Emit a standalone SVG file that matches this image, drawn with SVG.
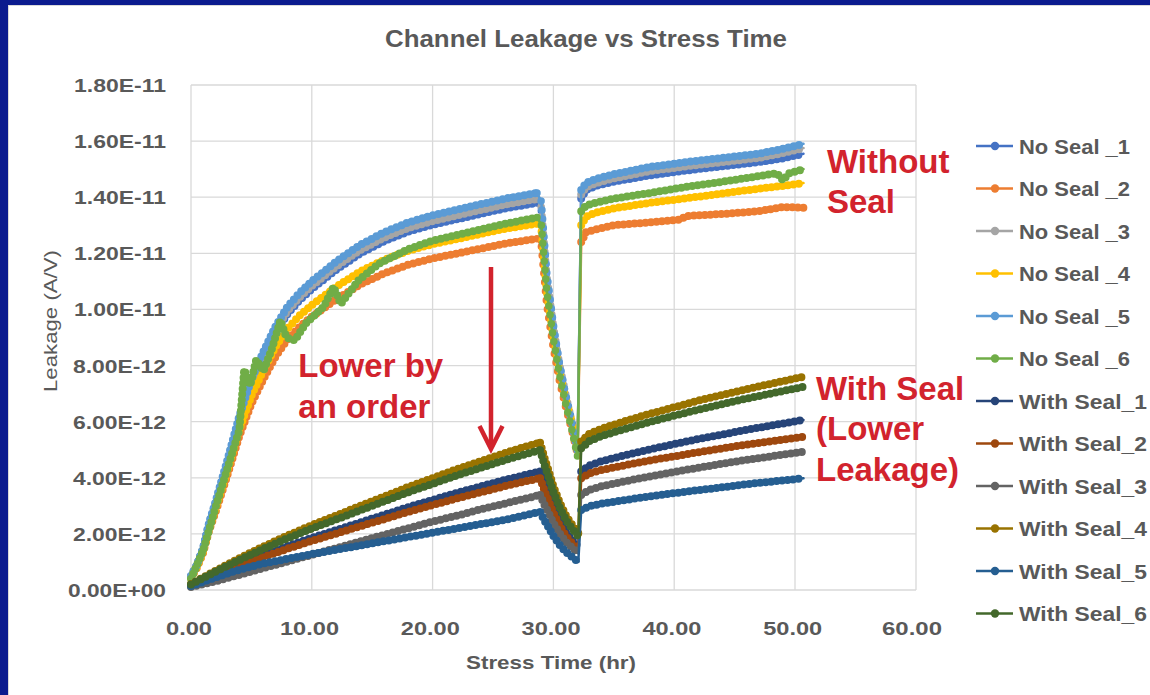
<svg xmlns="http://www.w3.org/2000/svg" width="1150" height="695" viewBox="0 0 1150 695">
<style>
.grid line{stroke:#d9d9d9;stroke-width:1.3}
.tk{font-family:"Liberation Sans",Arial,sans-serif;font-weight:bold;font-size:19px;fill:#595959}
.ttl{font-family:"Liberation Sans",Arial,sans-serif;font-weight:bold;font-size:24px;fill:#595959}
.axt{font-family:"Liberation Sans",Arial,sans-serif;font-weight:bold;font-size:19px;fill:#595959}
.axy{font-family:"Liberation Sans",Arial,sans-serif;font-size:19px;fill:#595959}
.lg{font-family:"Liberation Sans",Arial,sans-serif;font-weight:bold;font-size:20px;fill:#595959}
.ann{font-family:"Liberation Sans",Arial,sans-serif;font-weight:bold;font-size:33px;fill:#d2232d}
.ln{fill:none;stroke-width:2.5;stroke-linejoin:round;stroke-linecap:round}
.dt{fill:none;stroke-width:8;stroke-dasharray:0 5.5;stroke-linecap:round}
.dd{fill:none;stroke-width:7.5;stroke-dasharray:0 9;stroke-linecap:round}
.c1{stroke:#4472C4;fill:#4472C4}.c2{stroke:#ED7D31;fill:#ED7D31}.c3{stroke:#A5A5A5;fill:#A5A5A5}
.c4{stroke:#FFC000;fill:#FFC000}.c5{stroke:#5B9BD5;fill:#5B9BD5}.c6{stroke:#70AD47;fill:#70AD47}
.d1{stroke:#264478;fill:#264478}.d2{stroke:#9E480E;fill:#9E480E}.d3{stroke:#636363;fill:#636363}
.d4{stroke:#997300;fill:#997300}.d5{stroke:#255E91;fill:#255E91}.d6{stroke:#43682B;fill:#43682B}
.legend line{stroke-width:2.6}
</style>
<defs>
<path id="ns1a" d="M191,576.3 L197,565.3 203.1,549 209.1,524.4 215.2,505.2 227.2,464.1 239.3,420.3 251.4,384.8 263.5,357.5 275.6,332.8 287.6,313.7 299.7,300 311.8,289 336,269.9 360.1,253.5 384.3,241.1 408.4,231.6 432.6,224.8 456.8,219.3 480.9,213.8 505.1,208.4 529.2,204.3 537,202.9"/>
<path id="ns1b" d="M537,202.9 L541.3,210.6 546.7,278 553.4,328.2 559.5,365.2 565.5,394.1 571.5,419.9 577.6,449.7"/>
<path id="ns1c" d="M581.2,198.6 L586,190.1 595.7,185.9 613.8,181.7 650,175.3 686.3,170.5 722.5,166.3 758.8,162.1 782.9,158.4 803.5,153.7"/>
<path id="ns2a" d="M191,577.6 L197,567.6 203.1,552.7 209.1,530.4 215.2,513 227.2,475.7 239.3,436 251.4,403.7 263.5,378.9 275.6,356.5 287.6,339.2 299.7,326.8 311.8,316.8 336,299.5 360.1,284.6 384.3,273.3 408.4,264.7 432.6,258.5 456.8,253.5 480.9,248.6 505.1,243.6 529.2,239.9 537,238.7"/>
<path id="ns2b" d="M537,238.7 L541.3,245.7 546.7,304.6 553.4,348.7 559.5,381.2 565.5,406.5 571.5,429.2 577.6,455.3"/>
<path id="ns2c" d="M581.2,242.1 L586,232.2 595.7,229.4 613.8,225.2 650,222.4 680.2,219.6 686.3,216 722.5,214 758.8,211.2 782.9,207 803.5,207.8"/>
<path id="ns3a" d="M191,576.2 L197,565.1 203.1,548.5 209.1,523.7 215.2,504.3 227.2,462.8 239.3,418.6 251.4,382.7 263.5,355.1 275.6,330.2 287.6,310.9 299.7,297.1 311.8,285.9 336,266.6 360.1,250.1 384.3,237.6 408.4,227.9 432.6,221 456.8,215.5 480.9,210 505.1,204.5 529.2,200.3 537,199"/>
<path id="ns3b" d="M537,199 L541.3,207.3 546.7,275.4 553.4,326.5 559.5,364.1 565.5,393.3 571.5,419.7 577.6,449.7"/>
<path id="ns3c" d="M581.2,194.4 L586,187.3 595.7,183.1 613.8,178.4 650,171.1 686.3,166.3 722.5,162.1 758.8,157.9 782.9,153.1 803.5,148.1"/>
<path id="ns4a" d="M191,577.1 L197,566.6 203.1,551.1 209.1,527.9 215.2,509.7 227.2,470.8 239.3,429.4 251.4,395.7 263.5,369.9 275.6,346.5 287.6,328.4 299.7,315.5 311.8,305.1 336,287 360.1,271.5 384.3,259.8 408.4,250.7 432.6,244.2 456.8,239.1 480.9,233.9 505.1,228.7 529.2,224.9 537,223.6"/>
<path id="ns4b" d="M537,223.6 L541.3,230.6 546.7,291.7 553.4,336.9 559.5,370.6 565.5,396.7 571.5,419.9 577.6,446.9"/>
<path id="ns4c" d="M581.2,225.2 L586,216.8 595.7,212.6 613.8,208.4 650,202.8 686.3,198.3 722.5,193.5 758.8,188.7 782.9,185.9 803.5,183.1"/>
<path id="ns5a" d="M191,576 L197,564.7 203.1,547.9 209.1,522.7 215.2,503 227.2,460.9 239.3,416 251.4,379.5 263.5,351.5 275.6,326.2 287.6,306.6 299.7,292.6 311.8,281.3 336,261.7 360.1,244.9 384.3,232.2 408.4,222.4 432.6,215.4 456.8,209.8 480.9,204.2 505.1,198.6 529.2,194.4 537,193"/>
<path id="ns5b" d="M537,193 L541.3,201.4 546.7,272.1 553.4,324.8 559.5,363.8 565.5,394.1 571.5,421.4 577.6,452.5"/>
<path id="ns5c" d="M581.2,190.1 L586,183.1 595.7,178.9 613.8,174.2 650,166.9 686.3,162.1 722.5,157.9 758.8,153.7 782.9,148.9 803.5,143.8"/>
<path id="ns6a" d="M191,578.8 L203.1,550.7 215.2,508.6 227.2,469.3 239.3,430.1 244.2,369.7 250.2,385.2 256.2,359.9 263.5,371.1 271.9,348.7 280.4,320.6 286.4,337.5 294.9,340.3 305.8,323.4 323.9,306.6 333.5,287 340.8,303.8 358.9,279.9 379.4,263.4 408.4,249.1 432.6,240.7 456.8,235 480.9,229.4 505.1,223.8 529.2,219 537,217.4"/>
<path id="ns6b" d="M537,217.4 L541.3,224.9 546.7,290.3 553.4,338.9 559.5,374.8 565.5,402.8 571.5,428.1 577.6,456.7"/>
<path id="ns6c" d="M581.2,211.2 L586,205.6 595.7,202.8 613.8,198.6 650,193 686.3,186.8 722.5,181.7 758.8,176.1 776.9,173.3 782.9,180.3 788.9,173.3 803.5,169.1"/>
<path id="ws1a" d="M191,585.3 L215.2,574.6 239.3,564.5 263.5,555.1 287.6,546.2 311.8,537.9 336,530.2 360.1,522.5 384.3,514.8 408.4,507.1 432.6,500 456.8,492.9 480.9,486.4 505.1,479.9 529.2,474 540.1,471.6"/>
<path id="ws1b" d="M540.1,471.6 L545,485.9 548.3,494 553.3,507.8 560,522.1 566.7,533.3 573.3,541.2 578.3,546.8"/>
<path id="ws1c" d="M581.2,471.6 L589.6,465.4 601.7,461.2 625.9,455 650,449.4 674.2,444.1 698.4,439 722.5,434.5 746.7,429.8 770.8,425.6 803.5,419.9"/>
<path id="ws2a" d="M191,585.5 L215.2,575.5 239.3,566 263.5,557 287.6,548.7 311.8,540.9 336,533.6 360.1,526.3 384.3,519.1 408.4,511.8 432.6,505.1 456.8,498.4 480.9,492.3 505.1,486.1 529.2,480.5 540.1,478.3"/>
<path id="ws2b" d="M540.1,478.3 L545,491.8 548.3,499.6 553.3,512.6 560,526.3 566.7,537 573.3,544.5 578.3,549.9"/>
<path id="ws2c" d="M581.2,478.3 L589.6,473.3 601.7,469.9 625.9,465.1 650,460.4 674.2,456.4 698.4,452.2 722.5,448.3 746.7,444.6 770.8,441.3 803.5,436.8"/>
<path id="ws3a" d="M191,587.1 L215.2,581.4 239.3,574.8 263.5,568.1 287.6,561.5 311.8,554.8 336,548.2 360.1,541.5 384.3,534.8 408.4,528.2 432.6,521.5 456.8,515.8 480.9,509.2 505.1,503.5 529.2,497.8 540.1,494.9"/>
<path id="ws3b" d="M540.1,494.9 L545,506.1 548.3,512.3 553.3,522.9 560,533.9 566.7,542.9 573.3,548.8 578.3,553.2"/>
<path id="ws3c" d="M581.2,494.9 L589.6,489.8 601.7,486.2 625.9,481.1 650,476.4 674.2,471.9 698.4,467.7 722.5,463.7 746.7,459.8 770.8,456.4 803.5,451.7"/>
<path id="ws4a" d="M191,584.1 L215.2,570.9 239.3,558.3 263.5,546.5 287.6,535.5 311.8,525.2 336,515.6 360.1,506 384.3,496.5 408.4,486.9 432.6,478.1 456.8,469.2 480.9,461.1 505.1,453 529.2,445.6 540.1,442.7"/>
<path id="ws4b" d="M540.1,442.7 L545,459.8 548.3,469.9 553.3,486.2 560,503.3 566.7,517 573.3,526.6 578.3,533.3"/>
<path id="ws4c" d="M581.2,441.6 L589.6,433.7 601.7,428.7 625.9,420.8 650,413.8 674.2,407.3 698.4,400.6 722.5,395 746.7,389.1 770.8,383.8 803.5,376.7"/>
<path id="ws5a" d="M191,586.1 L215.2,577.5 239.3,569.7 263.5,563.5 287.6,558.8 311.8,554.1 336,549.8 360.1,545.5 384.3,541.2 408.4,537 432.6,532.7 456.8,528.4 480.9,524.1 505.1,519.8 529.2,514.3 540.1,512"/>
<path id="ws5b" d="M540.1,512 L545,521.5 548.3,526.9 553.3,535.8 560,545.4 566.7,552.7 573.3,558 578.3,561.7"/>
<path id="ws5c" d="M581.2,510 L589.6,506.1 601.7,503.6 625.9,499.9 650,496.3 674.2,493.2 698.4,490.1 722.5,487.3 746.7,484.2 770.8,481.7 803.5,478.3"/>
<path id="ws6a" d="M191,584.4 L215.2,571.8 239.3,560 263.5,548.8 287.6,538.3 311.8,528.5 336,519.5 360.1,510.4 384.3,501.3 408.4,492.2 432.6,483.8 456.8,475.4 480.9,467.8 505.1,460.1 529.2,453.1 540.1,450.3"/>
<path id="ws6b" d="M540.1,450.3 L545,466.8 548.3,476.1 553.3,491.8 560,508.1 566.7,521.3 573.3,530.2 578.3,536.7"/>
<path id="ws6c" d="M581.2,448.3 L589.6,441 601.7,435.9 625.9,428.7 650,421.9 674.2,415.7 698.4,409.6 722.5,404 746.7,398.6 770.8,393.6 803.5,386.8"/>
</defs>

<rect x="0" y="0" width="1150" height="695" fill="#ffffff"/>
<rect x="8.5" y="5.5" width="1150" height="700" fill="none" stroke="#d9d9d9" stroke-width="1"/>
<rect x="0" y="0" width="1150" height="5" fill="#0b1b8e"/>
<rect x="0" y="0" width="8" height="695" fill="#0b1b8e"/>

<text class="ttl" x="586" y="47" text-anchor="middle" textLength="402" lengthAdjust="spacingAndGlyphs">Channel Leakage vs Stress Time</text>

<g id="grid" class="grid">
<line x1="191" y1="85" x2="916" y2="85"/>
<line x1="191" y1="141.1" x2="916" y2="141.1"/>
<line x1="191" y1="197.2" x2="916" y2="197.2"/>
<line x1="191" y1="253.3" x2="916" y2="253.3"/>
<line x1="191" y1="309.4" x2="916" y2="309.4"/>
<line x1="191" y1="365.6" x2="916" y2="365.6"/>
<line x1="191" y1="421.7" x2="916" y2="421.7"/>
<line x1="191" y1="477.8" x2="916" y2="477.8"/>
<line x1="191" y1="533.9" x2="916" y2="533.9"/>
<line x1="191" y1="590" x2="916" y2="590"/>
<line x1="191" y1="85" x2="191" y2="590"/>
<line x1="311.8" y1="85" x2="311.8" y2="590"/>
<line x1="432.6" y1="85" x2="432.6" y2="590"/>
<line x1="553.4" y1="85" x2="553.4" y2="590"/>
<line x1="674.2" y1="85" x2="674.2" y2="590"/>
<line x1="795" y1="85" x2="795" y2="590"/>
<line x1="916" y1="85" x2="916" y2="590"/>
</g>

<g id="y-axis" text-anchor="end">
<text class="tk" x="166" y="92" textLength="92" lengthAdjust="spacingAndGlyphs">1.80E-11</text>
<text class="tk" x="166" y="148.1" textLength="92" lengthAdjust="spacingAndGlyphs">1.60E-11</text>
<text class="tk" x="166" y="204.2" textLength="92" lengthAdjust="spacingAndGlyphs">1.40E-11</text>
<text class="tk" x="166" y="260.3" textLength="92" lengthAdjust="spacingAndGlyphs">1.20E-11</text>
<text class="tk" x="166" y="316.4" textLength="92" lengthAdjust="spacingAndGlyphs">1.00E-11</text>
<text class="tk" x="166" y="372.6" textLength="93" lengthAdjust="spacingAndGlyphs">8.00E-12</text>
<text class="tk" x="166" y="428.7" textLength="93" lengthAdjust="spacingAndGlyphs">6.00E-12</text>
<text class="tk" x="166" y="484.8" textLength="93" lengthAdjust="spacingAndGlyphs">4.00E-12</text>
<text class="tk" x="166" y="540.9" textLength="93" lengthAdjust="spacingAndGlyphs">2.00E-12</text>
<text class="tk" x="166" y="597" textLength="98" lengthAdjust="spacingAndGlyphs">0.00E+00</text>
<text class="axy" transform="translate(57,321) rotate(-90)" text-anchor="middle" textLength="142" lengthAdjust="spacingAndGlyphs">Leakage (A/V)</text>
</g>

<g id="x-axis" text-anchor="middle">
<text class="tk" x="189" y="635" textLength="46" lengthAdjust="spacingAndGlyphs">0.00</text>
<text class="tk" x="309.5" y="635" textLength="59" lengthAdjust="spacingAndGlyphs">10.00</text>
<text class="tk" x="430.3" y="635" textLength="59" lengthAdjust="spacingAndGlyphs">20.00</text>
<text class="tk" x="551.1" y="635" textLength="59" lengthAdjust="spacingAndGlyphs">30.00</text>
<text class="tk" x="671.9" y="635" textLength="59" lengthAdjust="spacingAndGlyphs">40.00</text>
<text class="tk" x="792.7" y="635" textLength="59" lengthAdjust="spacingAndGlyphs">50.00</text>
<text class="tk" x="912" y="635" textLength="60" lengthAdjust="spacingAndGlyphs">60.00</text>
<text class="axt" x="551" y="669" textLength="170" lengthAdjust="spacingAndGlyphs">Stress Time (hr)</text>
</g>

<g id="series">
<g id="ns1" class="c1"><use href="#ns1a" class="ln"/><use href="#ns1b" class="ln"/><line class="ln" x1="577.6" y1="449.7" x2="581.2" y2="198.6"/><use href="#ns1c" class="ln"/><use href="#ns1a" class="dt"/><use href="#ns1b" class="dd"/><use href="#ns1c" class="dt"/></g>
<g id="ns2" class="c2"><use href="#ns2a" class="ln"/><use href="#ns2b" class="ln"/><line class="ln" x1="577.6" y1="455.3" x2="581.2" y2="242.1"/><use href="#ns2c" class="ln"/><use href="#ns2a" class="dt"/><use href="#ns2b" class="dd"/><use href="#ns2c" class="dt"/></g>
<g id="ns3" class="c3"><use href="#ns3a" class="ln"/><use href="#ns3b" class="ln"/><line class="ln" x1="577.6" y1="449.7" x2="581.2" y2="194.4"/><use href="#ns3c" class="ln"/><use href="#ns3a" class="dt"/><use href="#ns3b" class="dd"/><use href="#ns3c" class="dt"/></g>
<g id="ns4" class="c4"><use href="#ns4a" class="ln"/><use href="#ns4b" class="ln"/><line class="ln" x1="577.6" y1="446.9" x2="581.2" y2="225.2"/><use href="#ns4c" class="ln"/><use href="#ns4a" class="dt"/><use href="#ns4b" class="dd"/><use href="#ns4c" class="dt"/></g>
<g id="ns5" class="c5"><use href="#ns5a" class="ln"/><use href="#ns5b" class="ln"/><line class="ln" x1="577.6" y1="452.5" x2="581.2" y2="190.1"/><use href="#ns5c" class="ln"/><use href="#ns5a" class="dt"/><use href="#ns5b" class="dd"/><use href="#ns5c" class="dt"/></g>
<g id="ns6" class="c6"><use href="#ns6a" class="ln"/><use href="#ns6b" class="ln"/><line class="ln" x1="577.6" y1="456.7" x2="581.2" y2="211.2"/><use href="#ns6c" class="ln"/><use href="#ns6a" class="dt"/><use href="#ns6b" class="dd"/><use href="#ns6c" class="dt"/></g>
<g id="ws1" class="d1"><use href="#ws1a" class="ln"/><use href="#ws1b" class="ln"/><line class="ln" x1="578.3" y1="546.8" x2="581.2" y2="471.6"/><use href="#ws1c" class="ln"/><use href="#ws1a" class="dt"/><use href="#ws1b" class="dt"/><use href="#ws1c" class="dt"/></g>
<g id="ws2" class="d2"><use href="#ws2a" class="ln"/><use href="#ws2b" class="ln"/><line class="ln" x1="578.3" y1="549.9" x2="581.2" y2="478.3"/><use href="#ws2c" class="ln"/><use href="#ws2a" class="dt"/><use href="#ws2b" class="dt"/><use href="#ws2c" class="dt"/></g>
<g id="ws3" class="d3"><use href="#ws3a" class="ln"/><use href="#ws3b" class="ln"/><line class="ln" x1="578.3" y1="553.2" x2="581.2" y2="494.9"/><use href="#ws3c" class="ln"/><use href="#ws3a" class="dt"/><use href="#ws3b" class="dt"/><use href="#ws3c" class="dt"/></g>
<g id="ws4" class="d4"><use href="#ws4a" class="ln"/><use href="#ws4b" class="ln"/><line class="ln" x1="578.3" y1="533.3" x2="581.2" y2="441.6"/><use href="#ws4c" class="ln"/><use href="#ws4a" class="dt"/><use href="#ws4b" class="dt"/><use href="#ws4c" class="dt"/></g>
<g id="ws5" class="d5"><use href="#ws5a" class="ln"/><use href="#ws5b" class="ln"/><line class="ln" x1="578.3" y1="561.7" x2="581.2" y2="510"/><use href="#ws5c" class="ln"/><use href="#ws5a" class="dt"/><use href="#ws5b" class="dt"/><use href="#ws5c" class="dt"/></g>
<g id="ws6" class="d6"><use href="#ws6a" class="ln"/><use href="#ws6b" class="ln"/><line class="ln" x1="578.3" y1="536.7" x2="581.2" y2="448.3"/><use href="#ws6c" class="ln"/><use href="#ws6a" class="dt"/><use href="#ws6b" class="dt"/><use href="#ws6c" class="dt"/></g>
</g>

<g id="annotations">
<text class="ann" x="827" y="172.7">Without</text>
<text class="ann" x="827" y="213.3">Seal</text>
<text class="ann" x="816" y="399.5">With Seal</text>
<text class="ann" x="816" y="440">(Lower</text>
<text class="ann" x="816" y="480.5">Leakage)</text>
<text class="ann" x="298.3" y="377.3">Lower by</text>
<text class="ann" x="298.3" y="418.3">an order</text>
<g id="arrow" fill="none" stroke="#d2232d" stroke-width="4.5">
<line x1="491" y1="267" x2="491" y2="446"/>
<polyline points="479.5,426 491,449 502.5,426" stroke-linejoin="miter"/>
</g>
</g>

<g id="legend" class="legend">
<g id="leg-ns1" class="c1"><line x1="976" y1="146" x2="1013" y2="146"/><circle cx="995" cy="146" r="4.2" stroke="none"/><text class="lg" x="1019" y="153.5" stroke="none" textLength="111" lengthAdjust="spacingAndGlyphs">No Seal _1</text></g>
<g id="leg-ns2" class="c2"><line x1="976" y1="188.5" x2="1013" y2="188.5"/><circle cx="995" cy="188.5" r="4.2" stroke="none"/><text class="lg" x="1019" y="196" stroke="none" textLength="111" lengthAdjust="spacingAndGlyphs">No Seal _2</text></g>
<g id="leg-ns3" class="c3"><line x1="976" y1="231" x2="1013" y2="231"/><circle cx="995" cy="231" r="4.2" stroke="none"/><text class="lg" x="1019" y="238.5" stroke="none" textLength="111" lengthAdjust="spacingAndGlyphs">No Seal _3</text></g>
<g id="leg-ns4" class="c4"><line x1="976" y1="273.5" x2="1013" y2="273.5"/><circle cx="995" cy="273.5" r="4.2" stroke="none"/><text class="lg" x="1019" y="281" stroke="none" textLength="111" lengthAdjust="spacingAndGlyphs">No Seal _4</text></g>
<g id="leg-ns5" class="c5"><line x1="976" y1="316" x2="1013" y2="316"/><circle cx="995" cy="316" r="4.2" stroke="none"/><text class="lg" x="1019" y="323.5" stroke="none" textLength="111" lengthAdjust="spacingAndGlyphs">No Seal _5</text></g>
<g id="leg-ns6" class="c6"><line x1="976" y1="358.5" x2="1013" y2="358.5"/><circle cx="995" cy="358.5" r="4.2" stroke="none"/><text class="lg" x="1019" y="366" stroke="none" textLength="111" lengthAdjust="spacingAndGlyphs">No Seal _6</text></g>
<g id="leg-ws1" class="d1"><line x1="976" y1="401" x2="1013" y2="401"/><circle cx="995" cy="401" r="4.2" stroke="none"/><text class="lg" x="1019" y="408.5" stroke="none" textLength="128" lengthAdjust="spacingAndGlyphs">With Seal_1</text></g>
<g id="leg-ws2" class="d2"><line x1="976" y1="443.5" x2="1013" y2="443.5"/><circle cx="995" cy="443.5" r="4.2" stroke="none"/><text class="lg" x="1019" y="451" stroke="none" textLength="128" lengthAdjust="spacingAndGlyphs">With Seal_2</text></g>
<g id="leg-ws3" class="d3"><line x1="976" y1="486" x2="1013" y2="486"/><circle cx="995" cy="486" r="4.2" stroke="none"/><text class="lg" x="1019" y="493.5" stroke="none" textLength="128" lengthAdjust="spacingAndGlyphs">With Seal_3</text></g>
<g id="leg-ws4" class="d4"><line x1="976" y1="528.5" x2="1013" y2="528.5"/><circle cx="995" cy="528.5" r="4.2" stroke="none"/><text class="lg" x="1019" y="536" stroke="none" textLength="128" lengthAdjust="spacingAndGlyphs">With Seal_4</text></g>
<g id="leg-ws5" class="d5"><line x1="976" y1="571" x2="1013" y2="571"/><circle cx="995" cy="571" r="4.2" stroke="none"/><text class="lg" x="1019" y="578.5" stroke="none" textLength="128" lengthAdjust="spacingAndGlyphs">With Seal_5</text></g>
<g id="leg-ws6" class="d6"><line x1="976" y1="613.5" x2="1013" y2="613.5"/><circle cx="995" cy="613.5" r="4.2" stroke="none"/><text class="lg" x="1019" y="621" stroke="none" textLength="128" lengthAdjust="spacingAndGlyphs">With Seal_6</text></g>
</g>
</svg>
